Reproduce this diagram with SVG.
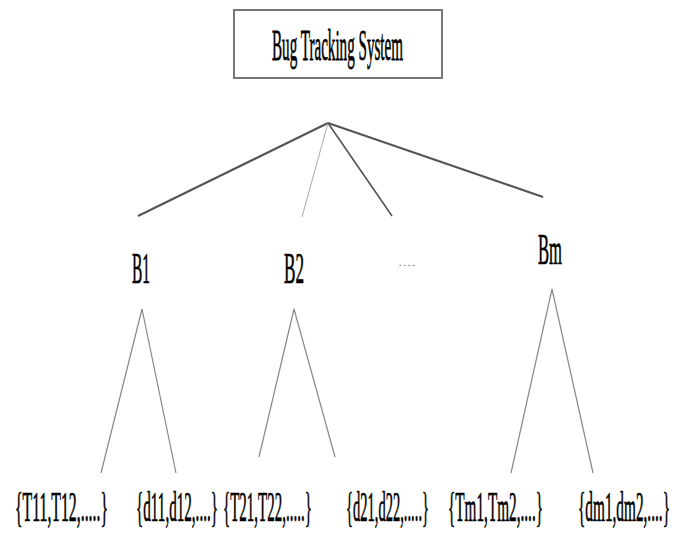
<svg xmlns="http://www.w3.org/2000/svg" width="682" height="536" viewBox="0 0 682 536">
<style>
.t{font-family:"Liberation Serif","DejaVu Serif",serif;font-size:15px;fill:#000;stroke:#000;stroke-width:0.25}
.br{fill:none;stroke:#888;stroke-width:1.2}
.main{fill:none;stroke:#555;stroke-width:2.2}
</style>
<rect width="682" height="536" fill="#fff"/>
<g id="root">
<rect x="234" y="10" width="208" height="68" fill="#fff" stroke="#777" stroke-width="2"/>
<text class="t" transform="translate(272,60) scale(1,3)" textLength="131" lengthAdjust="spacingAndGlyphs">Bug Tracking System</text>
</g>
<g id="b1"><text class="t" transform="translate(132,283) scale(1,2.9)" font-size="15.5" textLength="18" lengthAdjust="spacingAndGlyphs">B1</text></g>
<g id="b2"><text class="t" transform="translate(284,283) scale(1,2.9)" font-size="15.5" textLength="20" lengthAdjust="spacingAndGlyphs">B2</text></g>
<g id="bdots"><text x="398" y="266" font-family="Liberation Serif,serif" font-size="10" fill="#888" textLength="18" lengthAdjust="spacingAndGlyphs">....</text></g>
<g id="bm"><text class="t" transform="translate(538,264) scale(1,2.9)" font-size="15.5" textLength="24" lengthAdjust="spacingAndGlyphs">Bm</text></g>
<g id="t1"><text class="t" transform="translate(15,521) scale(1,2.8)" textLength="93" lengthAdjust="spacingAndGlyphs">{T11,T12,.....}</text></g>
<g id="d1"><text class="t" transform="translate(136,521) scale(1,2.8)" textLength="82" lengthAdjust="spacingAndGlyphs">{d11,d12,....}</text></g>
<g id="t2"><text class="t" transform="translate(223,521) scale(1,2.8)" textLength="89" lengthAdjust="spacingAndGlyphs">{T21,T22,.....}</text></g>
<g id="d2"><text class="t" transform="translate(346,521) scale(1,2.8)" textLength="83" lengthAdjust="spacingAndGlyphs">{d21,d22,.....}</text></g>
<g id="tm"><text class="t" transform="translate(448,521) scale(1,2.8)" textLength="95" lengthAdjust="spacingAndGlyphs">{Tm1,Tm2,....}</text></g>
<g id="dm"><text class="t" transform="translate(578,521) scale(1,2.8)" textLength="92" lengthAdjust="spacingAndGlyphs">{dm1,dm2,....}</text></g>
<g id="connectors">
<line class="main" x1="328" y1="123" x2="138" y2="216"/>
<line x1="328" y1="123" x2="302" y2="217" stroke="#aaa" stroke-width="1"/>
<line x1="328" y1="123" x2="392" y2="216" stroke="#555" stroke-width="1.6"/>
<line class="main" x1="328" y1="123" x2="543" y2="197"/>
<polyline class="br" points="101,473 142,309 176,473"/>
<polyline class="br" points="259,457 294,309 335,457"/>
<polyline class="br" points="511,473 552,289 593,473"/>
</g>
</svg>
